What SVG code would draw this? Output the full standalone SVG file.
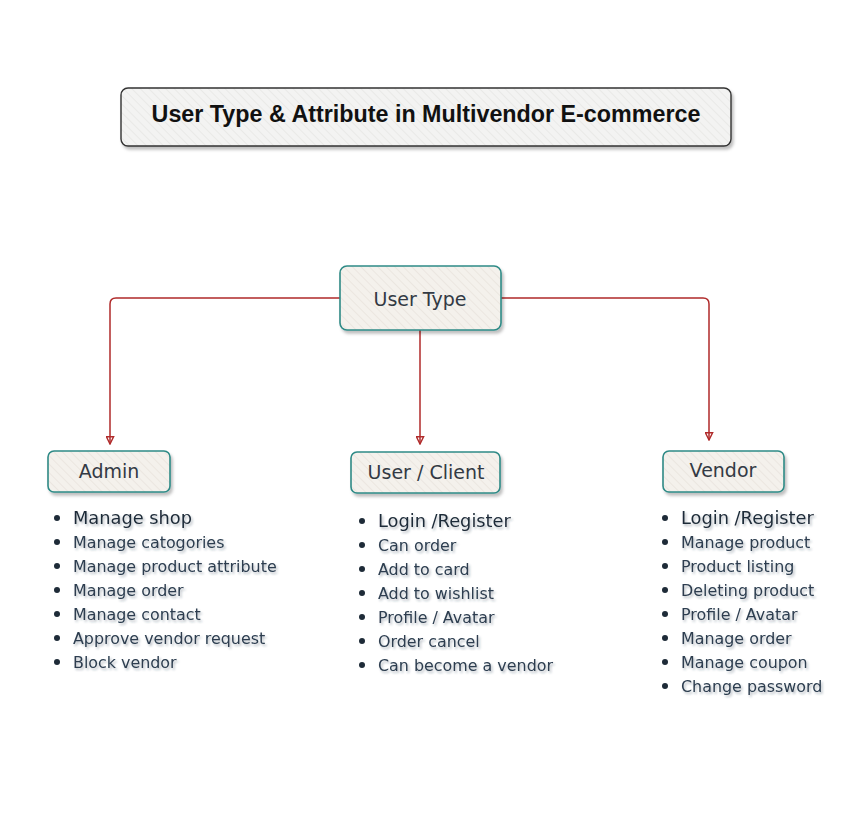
<svg xmlns="http://www.w3.org/2000/svg" width="858" height="831" viewBox="0 0 858 831">
<defs>
<pattern id="hatch" width="6" height="6" patternUnits="userSpaceOnUse" patternTransform="rotate(-45)">
<rect width="6" height="6" fill="#f4f1ec"/>
<line x1="0" y1="0" x2="0" y2="6" stroke="#e6e0d8" stroke-width="1.2"/>
</pattern>
<pattern id="hatch2" width="6" height="6" patternUnits="userSpaceOnUse" patternTransform="rotate(-45)">
<rect width="6" height="6" fill="#f3f3f2"/>
<line x1="0" y1="0" x2="0" y2="6" stroke="#e3e3e1" stroke-width="1.2"/>
</pattern>
<filter id="sh" x="-10%" y="-10%" width="130%" height="140%">
<feDropShadow dx="2" dy="3" stdDeviation="1.5" flood-color="#000" flood-opacity="0.25"/>
</filter>
<filter id="tsh" x="-5%" y="-20%" width="110%" height="160%">
<feDropShadow dx="1.5" dy="2" stdDeviation="1.2" flood-color="#2d3e50" flood-opacity="0.35"/>
</filter>
<marker id="arr" viewBox="0 0 10 10" refX="9" refY="5" markerWidth="9" markerHeight="9" orient="auto" markerUnits="userSpaceOnUse">
<path d="M1,1 L9,5 L1,9 Z" fill="none" stroke="#b02a2a" stroke-width="1.6"/>
</marker>
</defs>
<style>
.node rect{fill:url(#hatch);stroke:#2e8a86;stroke-width:1.6;filter:url(#sh)}
.title rect{fill:url(#hatch2);stroke:#333;stroke-width:1.4;filter:url(#sh)}
.lbl{font-family:"DejaVu Sans",Verdana,sans-serif;font-size:19px;fill:#333a44;text-anchor:middle}
.ttl{font-family:"Liberation Sans",Arial,sans-serif;font-size:23.3px;font-weight:bold;fill:#111;text-anchor:middle}
.li{font-family:"DejaVu Sans",Verdana,sans-serif;font-size:15.9px;fill:#2d3e50;filter:url(#tsh)}
.li1{font-size:17.8px;fill:#1e2b38}
.bul{fill:#1e2b38}
.conn path{fill:none;stroke:#b02a2a;stroke-width:1.5}
</style>

<g id="title" class="title">
<rect x="121" y="88" width="610" height="58" rx="7"/>
<text class="ttl" x="426" y="122">User Type &amp; Attribute in Multivendor E-commerce</text>
</g>

<g id="connectors" class="conn">
<path d="M340,298 L116,298 Q110,298 110,304 L110,444" marker-end="url(#arr)"/>
<path d="M420,330 L420,444" marker-end="url(#arr)"/>
<path d="M501,298 L703,298 Q709,298 709,304 L709,440" marker-end="url(#arr)"/>
</g>

<g id="user-type" class="node">
<rect x="340" y="266" width="161" height="64" rx="7"/>
<text class="lbl" x="420" y="306">User Type</text>
</g>

<g id="admin" class="node">
<rect x="48" y="451" width="122" height="41" rx="6"/>
<text class="lbl" x="109" y="478">Admin</text>
</g>

<g id="user-client" class="node">
<rect x="351" y="452" width="149" height="41" rx="6"/>
<text class="lbl" x="426" y="479">User / Client</text>
</g>

<g id="vendor" class="node">
<rect x="663" y="451" width="121" height="41" rx="6"/>
<text class="lbl" x="723" y="477">Vendor</text>
</g>

<g id="admin-list">
<circle class="bul" cx="57" cy="518" r="3"/><text class="li li1" x="73" y="524">Manage shop</text>
<circle class="bul" cx="57" cy="542" r="3"/><text class="li" x="73" y="548">Manage catogories</text>
<circle class="bul" cx="57" cy="566" r="3"/><text class="li" x="73" y="572">Manage product attribute</text>
<circle class="bul" cx="57" cy="590" r="3"/><text class="li" x="73" y="596">Manage order</text>
<circle class="bul" cx="57" cy="614" r="3"/><text class="li" x="73" y="620">Manage contact</text>
<circle class="bul" cx="57" cy="638" r="3"/><text class="li" x="73" y="644">Approve vendor request</text>
<circle class="bul" cx="57" cy="662" r="3"/><text class="li" x="73" y="668">Block vendor</text>
</g>

<g id="client-list">
<circle class="bul" cx="362" cy="521" r="3"/><text class="li li1" x="378" y="527">Login /Register</text>
<circle class="bul" cx="362" cy="545" r="3"/><text class="li" x="378" y="551">Can order</text>
<circle class="bul" cx="362" cy="569" r="3"/><text class="li" x="378" y="575">Add to card</text>
<circle class="bul" cx="362" cy="593" r="3"/><text class="li" x="378" y="599">Add to wishlist</text>
<circle class="bul" cx="362" cy="617" r="3"/><text class="li" x="378" y="623">Profile / Avatar</text>
<circle class="bul" cx="362" cy="641" r="3"/><text class="li" x="378" y="647">Order cancel</text>
<circle class="bul" cx="362" cy="665" r="3"/><text class="li" x="378" y="671">Can become a vendor</text>
</g>

<g id="vendor-list">
<circle class="bul" cx="665" cy="518" r="3"/><text class="li li1" x="681" y="524">Login /Register</text>
<circle class="bul" cx="665" cy="542" r="3"/><text class="li" x="681" y="548">Manage product</text>
<circle class="bul" cx="665" cy="566" r="3"/><text class="li" x="681" y="572">Product listing</text>
<circle class="bul" cx="665" cy="590" r="3"/><text class="li" x="681" y="596">Deleting product</text>
<circle class="bul" cx="665" cy="614" r="3"/><text class="li" x="681" y="620">Profile / Avatar</text>
<circle class="bul" cx="665" cy="638" r="3"/><text class="li" x="681" y="644">Manage order</text>
<circle class="bul" cx="665" cy="662" r="3"/><text class="li" x="681" y="668">Manage coupon</text>
<circle class="bul" cx="665" cy="686" r="3"/><text class="li" x="681" y="692">Change password</text>
</g>
</svg>
